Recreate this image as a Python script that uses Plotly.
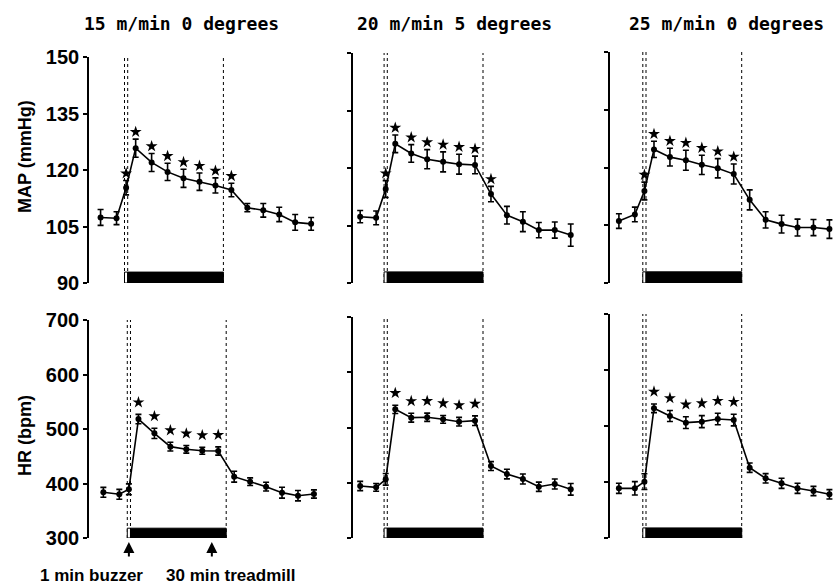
import plotly.graph_objects as go

# ---------------- data ----------------
time_min = [-8.5, -3.5, -0.5, 2.5, 7.5, 12.5, 17.5, 22.5, 27.5, 32.5, 37.5, 42.5, 47.5, 52.5, 57.5]

panel_titles = ["15 m/min 0 degrees", "20 m/min 5 degrees", "25 m/min 0 degrees"]

map_15 = [107.4, 107.2, 115.3, 125.8, 122.0, 119.5, 117.8, 116.9, 115.9, 114.7, 110.0, 109.3, 108.2, 106.1, 105.7]
map_15_se = [2.1, 1.7, 1.9, 2.4, 2.4, 2.3, 2.4, 2.3, 2.0, 1.8, 1.1, 1.8, 1.9, 2.1, 1.7]
map_20 = [107.3, 107.0, 114.5, 126.3, 123.8, 122.3, 121.6, 121.0, 120.8, 113.2, 107.7, 106.0, 103.8, 103.8, 102.5]
map_20_se = [1.6, 1.8, 2.2, 2.3, 2.3, 2.5, 2.6, 2.6, 2.3, 2.0, 2.3, 2.6, 2.0, 2.1, 2.9]
map_25 = [106.1, 107.8, 113.9, 124.7, 122.7, 121.9, 120.7, 119.8, 118.3, 111.6, 106.4, 105.3, 104.4, 104.4, 104.0]
map_25_se = [1.9, 1.9, 2.3, 2.1, 2.3, 2.6, 2.5, 2.5, 2.6, 2.6, 2.1, 2.3, 2.2, 2.1, 2.4]

hr_15 = [383.8, 380.2, 389.3, 518.3, 492.0, 467.6, 462.7, 460.2, 459.6, 412.5, 403.3, 394.2, 383.2, 377.6, 380.7]
hr_15_se = [9, 9, 10, 8.6, 9.5, 8, 7, 6.4, 7.6, 10, 7, 8, 10, 9.5, 7.6]
hr_20 = [394.1, 391.7, 406.2, 532.9, 517.8, 518.5, 514.8, 510.5, 512.3, 430.3, 415.8, 406.8, 392.8, 397.7, 388.1]
hr_20_se = [8.4, 7, 10.5, 7.5, 8, 7.5, 7, 7.8, 8.7, 8, 8.7, 9, 8.4, 9, 10.5]
hr_25 = [388.7, 388.7, 400.6, 531.6, 517.9, 506.0, 507.8, 512.5, 510.7, 425.5, 406.6, 397.6, 388.7, 383.9, 378.0]
hr_25_se = [9, 12, 14, 7.7, 9.8, 10.4, 10.7, 10.4, 10.4, 8.3, 8.3, 9, 9, 8.3, 8.3]

sig_map_15 = [2, 3, 4, 5, 6, 7, 8, 9]
sig_map_20 = [2, 3, 4, 5, 6, 7, 8, 9]
sig_map_25 = [2, 3, 4, 5, 6, 7, 8]
sig_hr_15 = [3, 4, 5, 6, 7, 8]
sig_hr_20 = [3, 4, 5, 6, 7, 8]
sig_hr_25 = [3, 4, 5, 6, 7, 8]

map_ticks = [90, 105, 120, 135, 150]
hr_ticks = [300, 400, 500, 600, 700]

buzzer_start, treadmill_start, treadmill_end = -1, 0, 30
arrow_times = [-0.5, 25.5]
arrow_labels = ["1 min buzzer", "30 min treadmill"]

# ---------------- layout helpers ----------------
W, H = 835, 585


def xdom(p0, p1):
    return [p0 / W, p1 / W]


def ydom(top, bottom):
    return [1 - bottom / H, 1 - top / H]


panels = [
    dict(xd=xdom(89, 320), xr=[-12.13, 60.28], yd=ydom(57, 283)),
    dict(xd=xdom(353, 584), xr=[-10.75, 61.66], yd=ydom(53, 283)),
    dict(xd=xdom(610, 835), xr=[-11.29, 59.25], yd=ydom(52, 283)),
    dict(xd=xdom(89, 320), xr=[-13.0, 59.4], yd=ydom(320, 538)),
    dict(xd=xdom(353, 584), xr=[-10.75, 61.66], yd=ydom(317, 538)),
    dict(xd=xdom(610, 835), xr=[-11.29, 59.25], yd=ydom(314, 538)),
]

series = [
    (map_15, map_15_se, sig_map_15),
    (map_20, map_20_se, sig_map_20),
    (map_25, map_25_se, sig_map_25),
    (hr_15, hr_15_se, sig_hr_15),
    (hr_20, hr_20_se, sig_hr_20),
    (hr_25, hr_25_se, sig_hr_25),
]

fig = go.Figure()
layout = dict(
    width=W, height=H, margin=dict(l=0, r=0, t=0, b=0, pad=0, autoexpand=False),
    paper_bgcolor="white", plot_bgcolor="white", showlegend=False,
    shapes=[], annotations=[],
)

for i, (p, (vals, se, sig)) in enumerate(zip(panels, series)):
    n = i + 1
    xa = "x" if n == 1 else f"x{n}"
    ya = "y" if n == 1 else f"y{n}"
    top_row = i < 3
    yrange = [90, 150] if top_row else [300, 700]
    ticks = map_ticks if top_row else hr_ticks
    star_off = 1.9 if top_row else 22
    bar_h = 2.9 if top_row else 18

    for t in (buzzer_start, treadmill_start, treadmill_end):
        layout["shapes"].append(dict(
            type="line", xref=xa, yref=ya, x0=t, x1=t, y0=yrange[0], y1=yrange[1],
            line=dict(color="black", width=1, dash="dot"), layer="below"))
    layout["shapes"].append(dict(
        type="rect", xref=xa, yref=ya, x0=buzzer_start, x1=treadmill_start,
        y0=yrange[0], y1=yrange[0] + bar_h,
        line=dict(color="black", width=1), fillcolor="white"))
    layout["shapes"].append(dict(
        type="rect", xref=xa, yref=ya, x0=treadmill_start, x1=treadmill_end,
        y0=yrange[0], y1=yrange[0] + bar_h,
        line=dict(color="black", width=1), fillcolor="black"))

    fig.add_trace(go.Scatter(
        x=time_min, y=vals, xaxis=xa, yaxis=ya, mode="lines+markers",
        line=dict(color="black", width=1.6),
        marker=dict(color="black", size=6),
        error_y=dict(type="data", array=se, color="black", thickness=1.6, width=3),
        cliponaxis=False, hoverinfo="skip"))

    fig.add_trace(go.Scatter(
        x=[time_min[k] for k in sig],
        y=[vals[k] + se[k] + star_off for k in sig],
        xaxis=xa, yaxis=ya, mode="markers",
        marker=dict(symbol="star", color="black", size=9, line=dict(width=0)),
        cliponaxis=False, hoverinfo="skip"))

    layout["xaxis" if n == 1 else f"xaxis{n}"] = dict(
        domain=p["xd"], range=p["xr"], anchor=ya, visible=False, fixedrange=True,
        automargin=False)
    layout["yaxis" if n == 1 else f"yaxis{n}"] = dict(
        domain=p["yd"], range=yrange, anchor=xa, tickvals=ticks,
        showticklabels=(i % 3 == 0), showline=True, linecolor="black", linewidth=1.6,
        ticks="outside", ticklen=4, tickwidth=1.6, tickcolor="black",
        showgrid=False, zeroline=False, fixedrange=True, automargin=False,
        tickfont=dict(family="Liberation Sans", size=20, color="black", weight="bold"))

title_x = [181, 455, 726]
for tx, title in zip(title_x, panel_titles):
    layout["annotations"].append(dict(
        text=title, xref="paper", yref="paper", x=tx / W, y=1 - 24 / H,
        xanchor="center", yanchor="middle", showarrow=False,
        font=dict(family="DejaVu Sans Mono", size=18, color="black", weight="bold")))

for label, yc in (("MAP (mmHg)", 157), ("HR (bpm)", 436)):
    layout["annotations"].append(dict(
        text=label, xref="paper", yref="paper", x=25 / W, y=1 - yc / H,
        xanchor="center", yanchor="middle", textangle=-90, showarrow=False,
        font=dict(family="Liberation Sans", size=18, color="black", weight="bold")))

for t in arrow_times:
    layout["annotations"].append(dict(
        text="", xref="x4", yref="paper", x=t, y=1 - 542 / H,
        ax=0, ay=16, showarrow=True, arrowhead=2, arrowsize=1.1, arrowwidth=2,
        arrowcolor="black"))
label_x = [91, 231]
for lx, lab in zip(label_x, arrow_labels):
    layout["annotations"].append(dict(
        text=lab, xref="paper", yref="paper", x=lx / W, y=1 - 575 / H,
        xanchor="center", yanchor="middle", showarrow=False,
        font=dict(family="Liberation Sans", size=17, color="black", weight="bold")))

fig.update_layout(**layout)
fig.write_html("out.html", config={"displayModeBar": False},
               post_script="document.body.style.margin='0';document.body.style.overflow='hidden';")
